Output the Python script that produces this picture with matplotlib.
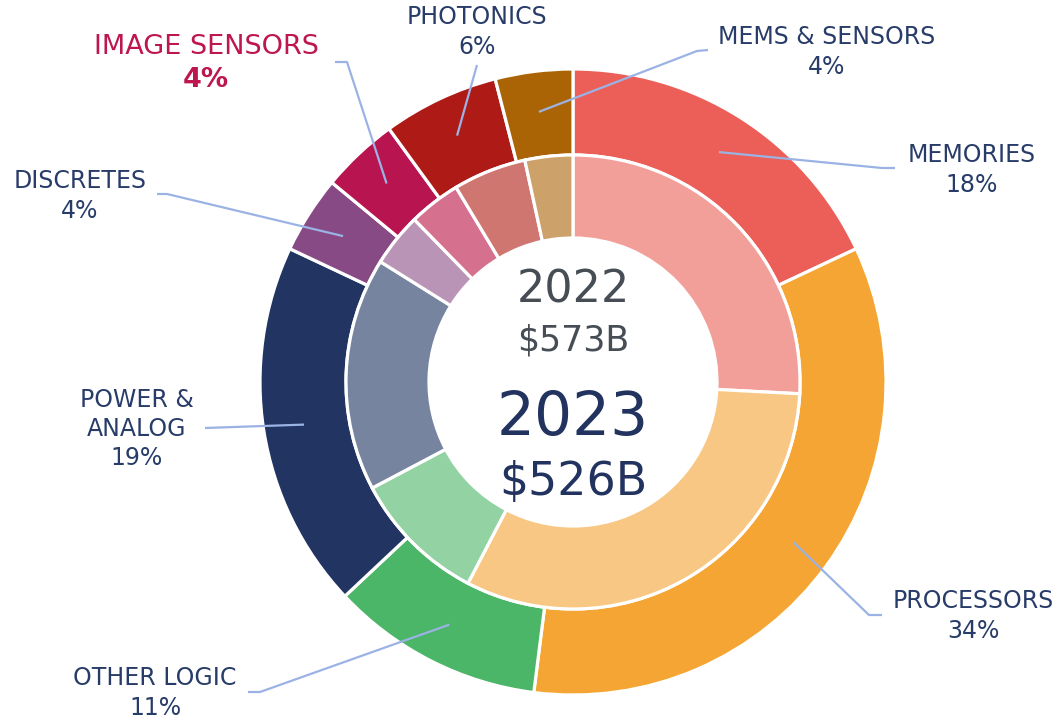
import matplotlib
matplotlib.use('Agg')
import matplotlib.pyplot as plt
import numpy as np

# segment data, clockwise from 12 o'clock
segments = ['MEMORIES', 'PROCESSORS', 'OTHER LOGIC', 'POWER &\nANALOG',
            'DISCRETES', 'IMAGE SENSORS', 'PHOTONICS', 'MEMS & SENSORS']
share_2023 = [18, 34, 11, 19, 4, 4, 6, 4]
share_2022 = [25.8, 31.8, 9.6, 16.6, 3.8, 3.7, 5.2, 3.4]
total_2022 = '$573B'
total_2023 = '$526B'

colors_2023 = ['#EC5F59', '#F5A533', '#4BB568', '#213462',
               '#874A85', '#B8144F', '#AE1A16', '#AA6405']
colors_2022 = ['#F29F99', '#F8C783', '#93D2A3', '#76849F',
               '#B994B6', '#D5708F', '#D07671', '#CCA26A']

W, H = 1063, 721
cx, cy = 573, H - 382
R_out, R_mid, R_in = 313, 227, 144

# label layout (image pixel coords): text centre, leader start, elbow
label_pos = [(972, 170), (973, 616), (155, 693), (137, 429),
             (80, 196), (206, 63), (477, 32), (827, 52)]
leader_pts = [((895, 168), (882, 168)), ((882, 615), (869, 615)),
              ((248, 692), (260, 692)), ((205, 428), (205, 428)),
              ((157, 194), (167, 194)), ((335, 62), (347, 62)),
              ((477, 65), (477, 65)), ((708, 50), (697, 51))]

text_col = '#283C69'
line_col = '#9BB3E4'
hl_col = '#BE1650'

fig = plt.figure(figsize=(W / 100, H / 100), dpi=100)
ax = fig.add_axes([0, 0, 1, 1])
ax.set_xlim(0, W)
ax.set_ylim(0, H)
ax.set_aspect('equal')
ax.axis('off')

wp = dict(edgecolor='white', linewidth=2.3)
ax.pie(share_2023, colors=colors_2023, radius=R_out, center=(cx, cy),
       startangle=90, counterclock=False, frame=True,
       wedgeprops=dict(width=R_out - R_mid, **wp))
ax.pie(share_2022, colors=colors_2022, radius=R_mid, center=(cx, cy),
       startangle=90, counterclock=False, frame=True,
       wedgeprops=dict(width=R_mid - R_in, **wp))
ax.set_xlim(0, W)
ax.set_ylim(0, H)
ax.axis('off')

# leader lines to wedge mid angles
cum = np.cumsum([0] + share_2023)
for i, name in enumerate(segments):
    mid = (cum[i] + cum[i + 1]) / 2 / 100 * 360
    ang = np.deg2rad(90 - mid)
    r = 0.87 * R_out
    ax_x, ax_y = cx + r * np.cos(ang), cy + r * np.sin(ang)
    (sx, sy), (ex, ey) = leader_pts[i]
    ax.plot([sx, ex, ax_x], [H - sy, H - ey, ax_y], color=line_col,
            lw=1.6, solid_capstyle='butt', zorder=5)

    tx, ty = label_pos[i]
    if name == 'IMAGE SENSORS':
        ax.text(tx, H - 47, name, ha='center', va='center', fontsize=19.5,
                color=hl_col)
        ax.text(tx, H - 80, '%d%%' % share_2023[i], ha='center', va='center',
                fontsize=19.5, color=hl_col, fontweight='bold')
    else:
        ax.text(tx, H - ty, '%s\n%d%%' % (name, share_2023[i]), ha='center',
                va='center', fontsize=17, color=text_col, linespacing=1.27)

# centre text
ax.text(cx, H - 290, '2022', ha='center', va='center', fontsize=32,
        color='#464D54')
ax.text(cx, H - 340, total_2022, ha='center', va='center', fontsize=25,
        color='#464D54')
ax.text(cx, H - 418, '2023', ha='center', va='center', fontsize=43,
        color='#22335F')
ax.text(cx, H - 483, total_2023, ha='center', va='center', fontsize=33,
        color='#22335F')

fig.savefig('out.png', dpi=100, facecolor='white')
